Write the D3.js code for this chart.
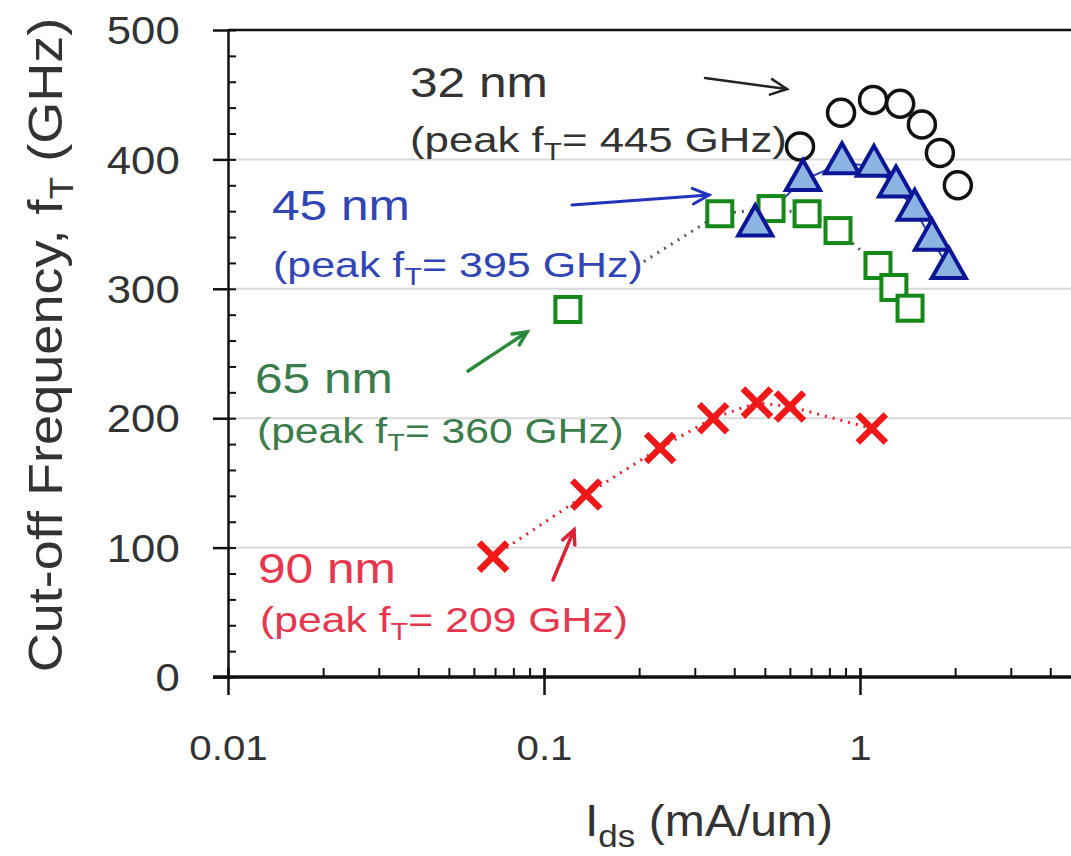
<!DOCTYPE html>
<html>
<head>
<meta charset="utf-8">
<script src="https://cdn.jsdelivr.net/npm/d3@7"></script>
<style>
  body { margin: 0; background: #fff; }
  svg { display: block; font-family: "Liberation Sans", Arial, sans-serif; }
</style>
</head>
<body>
<div id="chart"></div>
<script>
var width = 1071,
    height = 856;

// data (Ids in mA/um, fT in GHz)
var ids32 = [0.646, 0.871, 1.10, 1.34, 1.57, 1.79, 2.04];
var ft32  = [410, 436, 446, 443, 427, 405, 380];

var ids45 = [0.466, 0.660, 0.877, 1.107, 1.30, 1.49, 1.69, 1.91];
var ft45  = [349, 384, 397, 395, 379, 361, 338, 316];

var ids65 = [0.119, 0.360, 0.523, 0.680, 0.852, 1.14, 1.28, 1.44];
var ft65  = [284, 358, 362, 358, 345, 318, 301, 285];

var ids90 = [0.069, 0.136, 0.233, 0.343, 0.472, 0.600, 1.09];
var ft90  = [93, 141, 177, 200, 212, 209, 192];

var yTicks = [0, 100, 200, 300, 400, 500];
var xTicks = [0.01, 0.1, 1];
var xTickLabels = ["0.01", "0.1", "1"];

function zip(a, b) { return a.map(function(d, i) { return [d, b[i]]; }); }

var x = d3.scaleLog().domain([0.01, 10]).range([228, 1176]);
var y = d3.scaleLinear().domain([0, 500]).range([677, 30]);

var svg = d3.select("#chart").append("svg")
  .attr("width", width)
  .attr("height", height);

svg.append("rect").attr("width", width).attr("height", height).attr("fill", "#fff");

// grid lines
svg.append("g").selectAll("line")
  .data([100, 200, 300, 400])
  .enter().append("line")
  .attr("x1", x(0.01)).attr("x2", width)
  .attr("y1", function(d) { return y(d); })
  .attr("y2", function(d) { return y(d); })
  .attr("stroke", "#d9d9d9")
  .attr("stroke-width", 2);

// top border
svg.append("line")
  .attr("x1", x(0.01)).attr("x2", width)
  .attr("y1", y(500)).attr("y2", y(500))
  .attr("stroke", "#111").attr("stroke-width", 2.5);

// minor ticks (inside)
var yMinor = d3.range(0, 501, 20);
svg.append("g")
  .attr("transform", "translate(" + x(0.01) + ",0)")
  .call(d3.axisRight(y).tickValues(yMinor).tickSize(8).tickFormat(""))
  .call(function(g) { g.select(".domain").remove(); })
  .selectAll("line").attr("stroke", "#111").attr("stroke-width", 2);

var xMinor = [];
[0.01, 0.1, 1].forEach(function(d) {
  d3.range(1, 10).forEach(function(k) { if (d * k * 1.0001 < 5) xMinor.push(d * k); });
});
svg.append("g")
  .attr("transform", "translate(0," + y(0) + ")")
  .call(d3.axisTop(x).tickValues(xMinor).tickSize(9).tickFormat(""))
  .call(function(g) { g.select(".domain").remove(); })
  .selectAll("line").attr("stroke", "#111").attr("stroke-width", 2);

// y axis
var yAxis = svg.append("g")
  .attr("transform", "translate(" + x(0.01) + ",0)")
  .call(d3.axisLeft(y).tickValues(yTicks).tickSize(15).tickSizeOuter(0));
yAxis.select(".domain").attr("stroke", "#111").attr("stroke-width", 2.5);
yAxis.selectAll("line").attr("stroke", "#111").attr("stroke-width", 2.5);
yAxis.selectAll("text")
  .attr("font-size", 38)
  .attr("fill", "#333")
  .attr("font-family", "Liberation Sans, Arial, sans-serif")
  .attr("x", -42)
  .attr("dy", "0.36em")
  .attr("transform", "scale(1.15,1)");

// x axis
var xAxis = svg.append("g")
  .attr("transform", "translate(0," + y(0) + ")")
  .call(d3.axisBottom(x).tickValues(xTicks).tickSize(18).tickSizeOuter(0)
    .tickFormat(function(d, i) { return xTickLabels[i]; }));
xAxis.select(".domain").remove();
xAxis.selectAll("line").attr("stroke", "#111").attr("stroke-width", 2.5).attr("y1", -9);
xAxis.selectAll("text")
  .attr("font-size", 36)
  .attr("fill", "#333")
  .attr("font-family", "Liberation Sans, Arial, sans-serif")
  .attr("y", 57)
  .attr("transform", "scale(1.12,1)");
svg.append("line")
  .attr("x1", 213).attr("x2", width)
  .attr("y1", y(0)).attr("y2", y(0))
  .attr("stroke", "#111").attr("stroke-width", 3.5);

// series lines
var line = d3.line().x(function(d) { return x(d[0]); }).y(function(d) { return y(d[1]); });

var p90 = zip(ids90, ft90);
svg.append("path")
  .attr("d", line(p90))
  .attr("fill", "none")
  .attr("stroke", "#e8202a")
  .attr("stroke-width", 3)
  .attr("stroke-dasharray", "2,6");

var p65 = zip(ids65, ft65);
// first segment only shows its upper half
var mid = [Math.sqrt(p65[0][0] * p65[1][0]), (p65[0][1] + p65[1][1]) / 2];
svg.append("path")
  .attr("d", line([mid].concat(p65.slice(1))))
  .attr("fill", "none")
  .attr("stroke", "#555")
  .attr("stroke-width", 3)
  .attr("stroke-dasharray", "2,6");

var p45 = zip(ids45, ft45);
svg.append("path")
  .attr("d", line(p45))
  .attr("fill", "none")
  .attr("stroke", "#2a3fb0")
  .attr("stroke-width", 2);

// 90 nm crosses
var s = 14;
svg.append("g").selectAll("path")
  .data(p90)
  .enter().append("path")
  .attr("transform", function(d) { return "translate(" + x(d[0]) + "," + y(d[1]) + ")"; })
  .attr("d", "M" + (-s) + "," + (-s) + "L" + s + "," + s + "M" + s + "," + (-s) + "L" + (-s) + "," + s)
  .attr("stroke", "#f01818")
  .attr("stroke-width", 6.5)
  .attr("stroke-linecap", "butt");

// 32 nm circles
svg.append("g").selectAll("circle")
  .data(zip(ids32, ft32))
  .enter().append("circle")
  .attr("cx", function(d) { return x(d[0]); })
  .attr("cy", function(d) { return y(d[1]); })
  .attr("r", 13.5)
  .attr("fill", "#fff")
  .attr("stroke", "#111")
  .attr("stroke-width", 3.5);

// 65 nm squares
var sq = 25;
svg.append("g").selectAll("rect")
  .data(p65)
  .enter().append("rect")
  .attr("x", function(d) { return x(d[0]) - sq / 2; })
  .attr("y", function(d) { return y(d[1]) - sq / 2; })
  .attr("width", sq).attr("height", sq)
  .attr("fill", "#fff")
  .attr("stroke", "#16881a")
  .attr("stroke-width", 4);

// 45 nm triangles
var tw = 34, th = 30;
svg.append("g").selectAll("path")
  .data(p45)
  .enter().append("path")
  .attr("transform", function(d) { return "translate(" + x(d[0]) + "," + y(d[1]) + ")"; })
  .attr("d", "M0," + (-2 * th / 3) + "L" + (tw / 2) + "," + (th / 3) + "L" + (-tw / 2) + "," + (th / 3) + "Z")
  .attr("fill", "#8db3e2")
  .attr("stroke", "#0a1696")
  .attr("stroke-width", 4)
  .attr("stroke-linejoin", "miter");

// stretched labels
function addLabel(opts) {
  var g = svg.append("g");
  var t = g.append("text")
    .attr("font-size", opts.size)
    .attr("fill", opts.color)
    .attr("text-anchor", opts.anchor || "start");
  var sub = opts.subSize || opts.size * 0.68, shift = opts.subShift || opts.size * 0.22;
  var back = 0;
  opts.parts.forEach(function(p) {
    if (typeof p === "string") {
      var ts = t.append("tspan").text(p);
      if (back) { ts.attr("dy", -back); back = 0; }
    } else {
      t.append("tspan").text(p.sub).attr("font-size", sub).attr("dy", shift);
      back = shift;
    }
  });
  var len = t.node().getComputedTextLength();
  g.attr("transform", "translate(" + opts.x + "," + opts.y + ")" +
    (opts.rotate ? " rotate(" + opts.rotate + ")" : "") +
    " scale(" + (opts.width / len) + ",1)");
}

var notes = [
  {x: 410, y: 97, width: 138, size: 42, color: "#333", parts: ["32 nm"]},
  {x: 410, y: 152, width: 377, size: 35, color: "#333", parts: ["(peak f", {sub: "T"}, "= 445 GHz)"]},
  {x: 272, y: 220, width: 138, size: 42, color: "#3146b4", parts: ["45 nm"]},
  {x: 273, y: 277, width: 370, size: 35, color: "#3146b4", parts: ["(peak f", {sub: "T"}, "= 395 GHz)"]},
  {x: 255, y: 393, width: 138, size: 42, color: "#3b7c4c", parts: ["65 nm"]},
  {x: 257, y: 443, width: 367, size: 35, color: "#3b7c4c", parts: ["(peak f", {sub: "T"}, "= 360 GHz)"]},
  {x: 258, y: 583, width: 138, size: 42, color: "#e8364e", parts: ["90 nm"]},
  {x: 260, y: 632, width: 368, size: 35, color: "#e8364e", parts: ["(peak f", {sub: "T"}, "= 209 GHz)"]}
];
notes.forEach(addLabel);

// axis titles
addLabel({x: 585, y: 836, width: 248, size: 44, color: "#333", subSize: 32, subShift: 11,
  parts: ["I", {sub: "ds"}, " (mA/um)"]});
addLabel({x: 62, y: 345, width: 655, size: 48, color: "#333", anchor: "middle", rotate: -90,
  parts: ["Cut-off Frequency, f", {sub: "T"}, " (GHz)"]});

// arrows
function arrow(x1, y1, x2, y2, color, w, head) {
  var a = Math.atan2(y2 - y1, x2 - x1), sp = 0.45;
  var g = svg.append("g").attr("stroke", color).attr("stroke-width", w)
    .attr("fill", "none").attr("stroke-linecap", "round");
  g.append("line").attr("x1", x1).attr("y1", y1).attr("x2", x2).attr("y2", y2);
  g.append("path").attr("d",
    "M" + (x2 - head * Math.cos(a - sp)) + "," + (y2 - head * Math.sin(a - sp)) +
    "L" + x2 + "," + y2 +
    "L" + (x2 - head * Math.cos(a + sp)) + "," + (y2 - head * Math.sin(a + sp)));
}
arrow(705, 78, 787, 89, "#222", 2.5, 18);
arrow(572, 205, 709, 195, "#2233bb", 3, 18);
arrow(468, 371, 527, 332, "#2a8a3a", 3.5, 15);
arrow(553, 580, 574, 530, "#dd2233", 3.5, 15);
</script>
</body>
</html>
